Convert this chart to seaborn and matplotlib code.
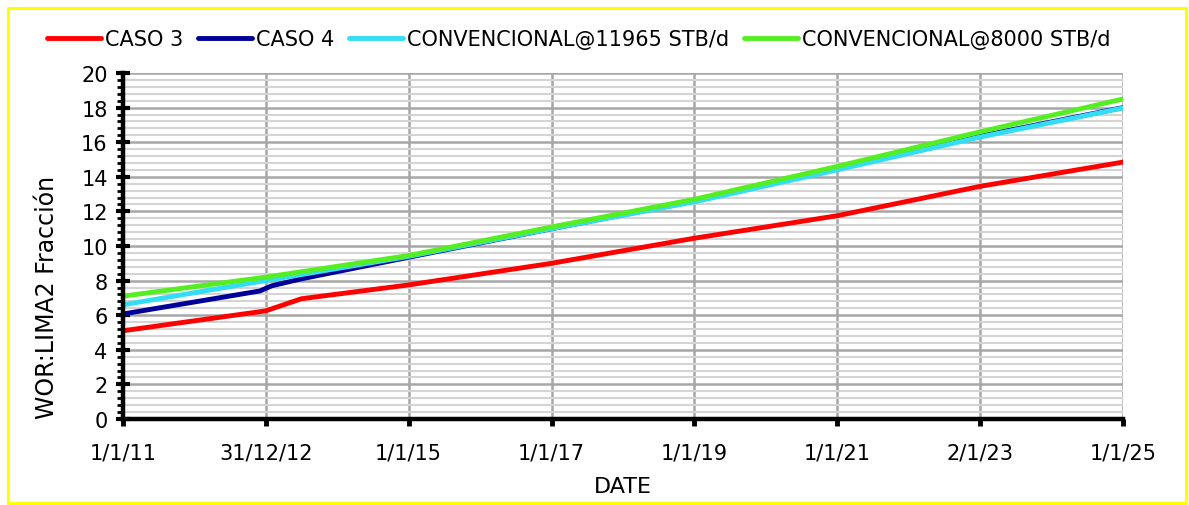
import matplotlib
matplotlib.use("Agg")
import matplotlib.pyplot as plt
from matplotlib.patches import Rectangle
from matplotlib.ticker import MultipleLocator
import pandas as pd
import seaborn as sns

# Series names and colours
series_names = ["CASO 3", "CASO 4", "CONVENCIONAL@11965 STB/d", "CONVENCIONAL@8000 STB/d"]
series_colors = ["#ff0000", "#000099", "#33ddf5", "#55ee22"]

# Dates and WOR values for each case
caso3_dates = ["2011-01-01", "2012-12-31", "2013-07-01", "2015-01-01", "2017-01-01",
               "2019-01-01", "2021-01-01", "2023-01-02", "2025-01-01"]
caso3_vals = [5.1, 6.25, 6.95, 7.75, 9.0, 10.45, 11.75, 13.45, 14.85]

caso4_dates = ["2011-01-01", "2012-12-01", "2013-01-31", "2013-07-01", "2015-01-01",
               "2017-01-01", "2019-01-01", "2021-01-01", "2023-01-02", "2025-01-01"]
caso4_vals = [6.07, 7.4, 7.7, 8.1, 9.35, 11.0, 12.6, 14.45, 16.35, 18.0]

conv11965_dates = ["2011-01-01", "2012-12-31", "2015-01-01", "2017-01-01",
                   "2019-01-01", "2021-01-01", "2023-01-02", "2025-01-01"]
conv11965_vals = [6.6, 8.0, 9.4, 11.0, 12.55, 14.4, 16.3, 17.98]

conv8000_dates = ["2011-01-01", "2012-12-31", "2015-01-01", "2017-01-01",
                  "2019-01-01", "2021-01-01", "2023-01-02", "2025-01-01"]
conv8000_vals = [7.1, 8.2, 9.45, 11.1, 12.7, 14.6, 16.6, 18.5]

# Axis tick dates and their labels
tick_dates = ["2011-01-01", "2012-12-31", "2015-01-01", "2017-01-01",
              "2019-01-01", "2021-01-01", "2023-01-02", "2025-01-01"]
tick_labels = ["1/1/11", "31/12/12", "1/1/15", "1/1/17", "1/1/19", "1/1/21", "2/1/23", "1/1/25"]

frames = []
for name, d, v in [(series_names[0], caso3_dates, caso3_vals),
                   (series_names[1], caso4_dates, caso4_vals),
                   (series_names[2], conv11965_dates, conv11965_vals),
                   (series_names[3], conv8000_dates, conv8000_vals)]:
    frames.append(pd.DataFrame({"DATE": pd.to_datetime(d), "WOR": v, "Serie": name}))
df = pd.concat(frames, ignore_index=True)

sns.set_style("white")
plt.rcParams["font.family"] = ["DejaVu Sans"]
plt.rcParams["text.color"] = "black"
plt.rcParams["axes.labelcolor"] = "black"
plt.rcParams["xtick.color"] = "black"
plt.rcParams["ytick.color"] = "black"

fig = plt.figure(figsize=(11.89, 5.06), dpi=100)
ax = fig.add_axes([123 / 1189, 1 - 420 / 506, 1000 / 1189, 346 / 506])

sns.lineplot(data=df, x="DATE", y="WOR", hue="Serie", hue_order=series_names,
             palette=series_colors, estimator=None, sort=False, linewidth=3.5,
             ax=ax, legend=False)

ax.set_xlim(pd.Timestamp("2011-01-01"), pd.Timestamp("2025-01-01"))
ax.set_ylim(0, 20)

ax.set_xticks(pd.to_datetime(tick_dates))
ax.set_xticklabels(tick_labels)
ax.yaxis.set_major_locator(MultipleLocator(2))
ax.yaxis.set_minor_locator(MultipleLocator(0.4))

ax.grid(False)
ax.grid(True, which="major", axis="both", color="#a6a6a6", linewidth=1.8, zorder=0)
ax.grid(True, which="minor", axis="y", color="#d4d4d4", linewidth=1.5, zorder=0)
ax.set_axisbelow(True)

for side in ["top", "right"]:
    ax.spines[side].set_visible(False)
for side in ["left", "bottom"]:
    ax.spines[side].set_color("black")
    ax.spines[side].set_linewidth(3.2)

ax.tick_params(axis="y", which="major", direction="inout", length=10, width=3,
               color="black", labelcolor="black", labelsize=15, pad=6, left=True)
ax.tick_params(axis="y", which="minor", direction="out", length=4, width=2,
               color="black", left=True)
ax.tick_params(axis="x", which="major", direction="out", length=5, width=3.5,
               color="black", labelcolor="black", labelsize=15, pad=12, bottom=True)

ax.set_xlabel("DATE", fontsize=16, labelpad=10, color="black")
ax.set_ylabel("WOR:LIMA2 Fracción", fontsize=17, color="black")
ax.yaxis.set_label_coords(-0.064, 0.355)

handles = [plt.Line2D([], [], color=c, linewidth=3.5, solid_capstyle="round")
           for c in series_colors]
fig.legend(handles, series_names, loc="center left", bbox_to_anchor=(28 / 1189, 1 - 40 / 506),
           ncol=4, frameon=False, fontsize=15, handlelength=2.6, handletextpad=0.2,
           columnspacing=0.7, labelcolor="black")

# Yellow frame around the chart area
fig.patches.append(Rectangle((7.5 / 1189, 2 / 506), 1178 / 1189, 495 / 506,
                             transform=fig.transFigure, fill=False,
                             edgecolor="#ffff00", linewidth=2.2))

fig.savefig("out.png", dpi=100)
